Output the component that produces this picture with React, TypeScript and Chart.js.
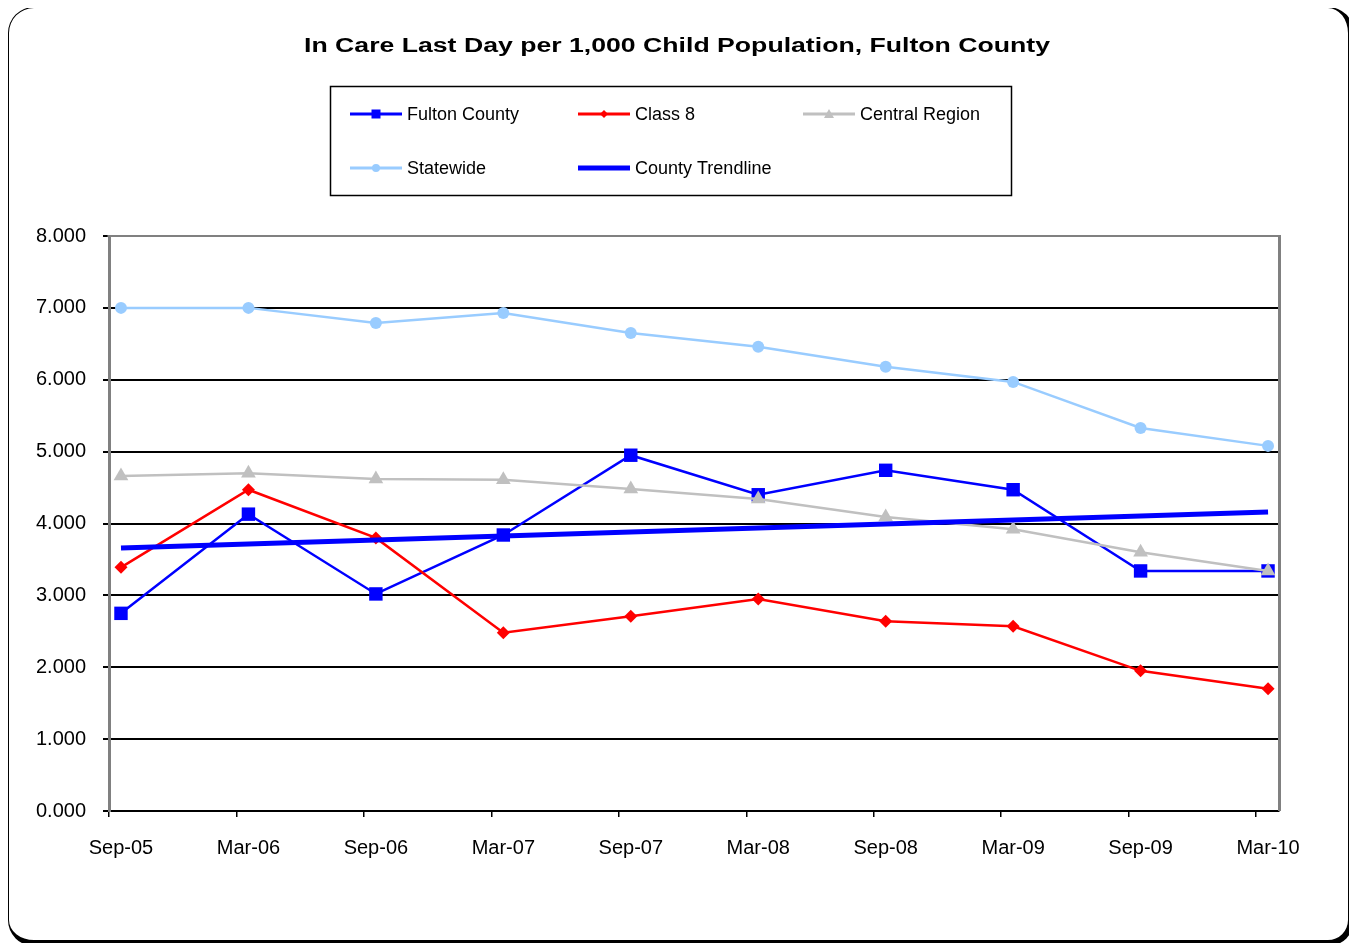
import React, { useEffect, useRef } from 'react';
import { Chart, registerables } from 'chart.js';

Chart.register(...registerables);

// ---- data ----
const categories = ['Sep-05', 'Mar-06', 'Sep-06', 'Mar-07', 'Sep-07', 'Mar-08', 'Sep-08', 'Mar-09', 'Sep-09', 'Mar-10'];
const fultonCounty = [2.75, 4.13, 3.02, 3.84, 4.95, 4.40, 4.74, 4.47, 3.34, 3.34];
const class8 = [3.39, 4.47, 3.80, 2.48, 2.71, 2.95, 2.64, 2.57, 1.95, 1.70];
const centralRegion = [4.66, 4.70, 4.62, 4.61, 4.48, 4.34, 4.09, 3.92, 3.60, 3.34];
const statewide = [7.00, 7.00, 6.79, 6.93, 6.65, 6.46, 6.18, 5.97, 5.33, 5.08];
// county trendline, read at first and last category
const trendCategoryIdx = [0, 9];
const trendValues = [3.66, 4.16];
const yTickValues = [0, 1, 2, 3, 4, 5, 6, 7, 8];
const TITLE = 'In Care Last Day per 1,000 Child Population, Fulton County';

// ---- layout constants ----
const X_MIN = -0.094;
const X_MAX = 9.086;
const TICK_SHIFT = -0.094;
const W = 1341;
const H = 935;

const AXIS_FONT = { family: '"Liberation Sans", Arial, sans-serif', size: 20 };

type LegendItem = { label: string; color: string; marker: string; lw: number; col: number; row: number };
const legendItems: LegendItem[] = [
  { label: 'Fulton County', color: '#0000FF', marker: 'square', lw: 3, col: 0, row: 0 },
  { label: 'Class 8', color: '#FF0000', marker: 'diamond', lw: 3, col: 1, row: 0 },
  { label: 'Central Region', color: '#C0C0C0', marker: 'triangle', lw: 3, col: 2, row: 0 },
  { label: 'Statewide', color: '#99CCFF', marker: 'circle', lw: 3, col: 0, row: 1 },
  { label: 'County Trendline', color: '#0000FF', marker: 'none', lw: 5, col: 1, row: 1 },
];

function drawMarker(ctx: CanvasRenderingContext2D, kind: string, x: number, y: number, color: string) {
  ctx.fillStyle = color;
  ctx.beginPath();
  if (kind === 'square') {
    ctx.rect(x - 4.5, y - 4.5, 9, 9);
  } else if (kind === 'diamond') {
    ctx.moveTo(x, y - 4);
    ctx.lineTo(x + 4, y);
    ctx.lineTo(x, y + 4);
    ctx.lineTo(x - 4, y);
    ctx.closePath();
  } else if (kind === 'triangle') {
    ctx.moveTo(x, y - 5);
    ctx.lineTo(x + 5, y + 4);
    ctx.lineTo(x - 5, y + 4);
    ctx.closePath();
  } else if (kind === 'circle') {
    ctx.arc(x, y, 4, 0, Math.PI * 2);
  } else {
    return;
  }
  ctx.fill();
}

const decorPlugin = {
  id: 'decor',
  beforeDatasetsDraw(chart: any) {
    const { ctx, chartArea } = chart;
    ctx.save();
    ctx.strokeStyle = '#808080';
    ctx.lineWidth = 2;
    ctx.beginPath();
    ctx.moveTo(chartArea.left - 1.5, chartArea.top);
    ctx.lineTo(chartArea.right, chartArea.top);
    ctx.stroke();
    ctx.lineWidth = 3;
    ctx.beginPath();
    ctx.moveTo(chartArea.right + 0.5, chartArea.top - 1);
    ctx.lineTo(chartArea.right + 0.5, chartArea.bottom);
    ctx.stroke();
    ctx.restore();
  },
  afterDraw(chart: any) {
    const ctx: CanvasRenderingContext2D = chart.ctx;
    ctx.save();
    // title
    ctx.fillStyle = '#000';
    ctx.font = 'bold 20px "Liberation Sans", Arial, sans-serif';
    ctx.textAlign = 'center';
    ctx.textBaseline = 'middle';
    const tw = ctx.measureText(TITLE).width;
    const sx = 746 / tw;
    ctx.translate(669, 38);
    ctx.scale(sx, 1);
    ctx.fillText(TITLE, 0, 0);
    ctx.setTransform(1, 0, 0, 1, 0, 0);

    // legend box
    ctx.strokeStyle = '#000';
    ctx.lineWidth = 1.5;
    ctx.strokeRect(322.5, 78.5, 681, 109);
    const colX = [342, 570, 795];
    const rowY = [106, 160];
    ctx.font = '18px "Liberation Sans", Arial, sans-serif';
    ctx.textAlign = 'left';
    ctx.textBaseline = 'middle';
    legendItems.forEach((it) => {
      const x0 = colX[it.col];
      const y = rowY[it.row];
      ctx.strokeStyle = it.color;
      ctx.lineWidth = it.lw;
      ctx.lineCap = 'butt';
      ctx.beginPath();
      ctx.moveTo(x0, y);
      ctx.lineTo(x0 + 52, y);
      ctx.stroke();
      drawMarker(ctx, it.marker, x0 + 26, y, it.color);
      ctx.fillStyle = '#000';
      ctx.fillText(it.label, x0 + 57, y + 1);
    });
    ctx.restore();
  },
};

function toXY(values: number[]) {
  return values.map((v, i) => ({ x: i, y: v }));
}

export default function App() {
  const ref = useRef<HTMLCanvasElement | null>(null);

  useEffect(() => {
    if (!ref.current) return;
    const chart = new Chart(ref.current, {
      type: 'line',
      data: {
        datasets: [
          {
            label: 'Fulton County',
            data: toXY(fultonCounty),
            borderColor: '#0000FF',
            backgroundColor: '#0000FF',
            borderWidth: 2.5,
            pointStyle: 'rect',
            pointRadius: 9.5,
            pointBorderWidth: 0,
            pointBackgroundColor: '#0000FF',
            order: 4,
          },
          {
            label: 'Class 8',
            data: toXY(class8),
            borderColor: '#FF0000',
            backgroundColor: '#FF0000',
            borderWidth: 2.5,
            pointStyle: 'rectRot',
            pointRadius: 6.5,
            pointBorderWidth: 0,
            pointBackgroundColor: '#FF0000',
            order: 3,
          },
          {
            label: 'Central Region',
            data: toXY(centralRegion),
            borderColor: '#C0C0C0',
            backgroundColor: '#C0C0C0',
            borderWidth: 2.5,
            pointStyle: 'triangle',
            pointRadius: 8.5,
            pointBorderWidth: 0,
            pointBackgroundColor: '#C0C0C0',
            order: 1,
          },
          {
            label: 'Statewide',
            data: toXY(statewide),
            borderColor: '#99CCFF',
            backgroundColor: '#99CCFF',
            borderWidth: 2.5,
            pointStyle: 'circle',
            pointRadius: 6,
            pointBorderWidth: 0,
            pointBackgroundColor: '#99CCFF',
            order: 2,
          },
          {
            label: 'County Trendline',
            data: trendCategoryIdx.map((c, i) => ({ x: c, y: trendValues[i] })),
            borderColor: '#0000FF',
            backgroundColor: '#0000FF',
            borderWidth: 5,
            pointRadius: 0,
            order: 0,
          },
        ],
      },
      options: {
        animation: false,
        responsive: false,
        layout: { padding: { top: 228, right: 70, bottom: 0, left: 0 } },
        plugins: {
          legend: { display: false },
          title: { display: false },
          tooltip: { enabled: false },
        },
        scales: {
          x: {
            type: 'linear',
            min: X_MIN,
            max: X_MAX,
            afterBuildTicks: (s: any) => {
              s.ticks = categories.map((_, i) => ({ value: i + TICK_SHIFT }));
            },
            afterFit: (s: any) => {
              s.height = 132;
            },
            ticks: {
              callback: (_v: any, i: number) => categories[i],
              labelOffset: 12,
              padding: 19,
              color: '#000',
              font: AXIS_FONT,
              maxRotation: 0,
              autoSkip: false,
            },
            grid: {
              drawOnChartArea: false,
              drawTicks: true,
              tickLength: 6,
              color: '#000',
              lineWidth: 1.5,
            },
            border: { color: '#000', width: 2 },
          },
          y: {
            type: 'linear',
            min: 0,
            max: 8,
            afterBuildTicks: (s: any) => {
              s.ticks = yTickValues.map((v) => ({ value: v }));
            },
            afterFit: (s: any) => {
              s.width = 101;
            },
            ticks: {
              callback: (v: any) => Number(v).toFixed(3),
              padding: 17,
              color: '#000',
              font: AXIS_FONT,
            },
            grid: {
              color: '#000',
              lineWidth: 2,
              tickLength: 6,
            },
            border: { color: '#808080', width: 3 },
          },
        },
      } as any,
      plugins: [decorPlugin],
    });
    return () => chart.destroy();
  }, []);

  return (
    <div style={{ position: 'relative', width: W, height: H, background: '#fff' }}>
      <div
        style={{
          position: 'absolute',
          left: 0,
          top: -1,
          width: 1346,
          height: 939,
          boxSizing: 'border-box',
          borderStyle: 'solid',
          borderColor: '#000',
          borderWidth: '1px 6px 6px 1px',
          borderRadius: 26,
          background: '#fff',
        }}
      />
      <canvas
        ref={ref}
        width={W}
        height={H}
        style={{ position: 'absolute', left: 0, top: 0, display: 'block' }}
      />
    </div>
  );
}
